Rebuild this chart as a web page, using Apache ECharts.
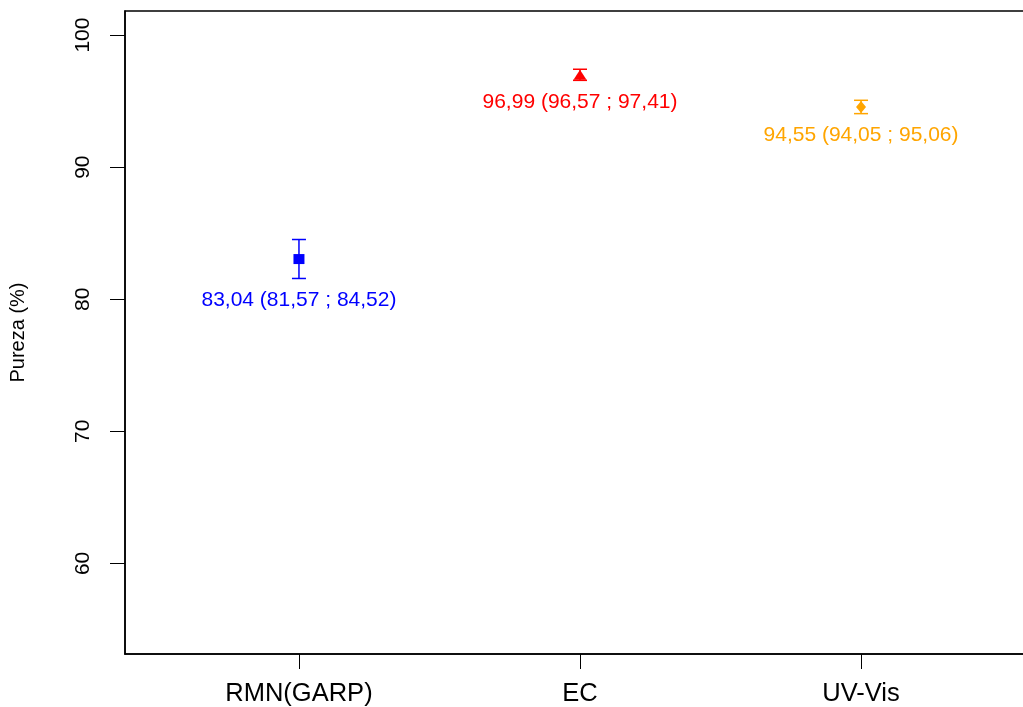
<!DOCTYPE html>
<html>
<head>
<meta charset="utf-8">
<script src="https://cdn.jsdelivr.net/npm/echarts@6/dist/echarts.min.js"></script>
<style>
html,body{margin:0;padding:0;background:#fff;}
#chart{width:1023px;height:707px;}
</style>
</head>
<body>
<div id="chart"></div>
<script>
const categories = ['RMN(GARP)', 'EC', 'UV-Vis'];
const means = [83.04, 96.99, 94.55];
const lowers = [81.57, 96.57, 94.05];
const uppers = [84.52, 97.41, 95.06];
const colors = ['#0000FF', '#FF0000', '#FFA500'];
const symbols = ['rect', 'triangle', 'diamond'];
const symbolSizes = [[11, 10], [13, 10], [10, 12]];
const yTicks = [60, 70, 80, 90, 100];
const xPositions = [1, 2, 3];
const yTitle = 'Pureza (%)';

const FONT = "'Liberation Sans', Arial, sans-serif";
const fmt = v => v.toFixed(2).replace('.', ',');

const chart = echarts.init(document.getElementById('chart'), null, {renderer: 'canvas'});

const errData = xPositions.map((x, i) => [x, lowers[i], uppers[i], i]);
const ptData = xPositions.map((x, i) => ({
  value: [x, means[i]],
  symbol: symbols[i],
  symbolSize: symbolSizes[i],
  itemStyle: {color: colors[i], opacity: 1}
}));

chart.setOption({
  animation: false,
  backgroundColor: '#fff',
  grid: {left: 125, width: 910, top: 11, bottom: 53, containLabel: false, outerBoundsMode: 'none',
    show: true, borderColor: '#000', borderWidth: 1.5},
  xAxis: {
    type: 'value', min: 0.381, max: 3.619,
    axisLine: {show: true, lineStyle: {color: '#000', width: 1.5}},
    axisTick: {show: true, length: 15, customValues: xPositions, lineStyle: {color: '#000', width: 1}},
    axisLabel: {customValues: xPositions, margin: 27, fontSize: 25.5, fontFamily: FONT, color: '#000',
      formatter: v => categories[Math.round(v) - 1]},
    splitLine: {show: false}
  },
  yAxis: {
    type: 'value', min: 53.14, max: 101.82,
    name: yTitle, nameLocation: 'middle', nameGap: 97, nameRotate: 90,
    nameTextStyle: {fontSize: 20, fontFamily: FONT, color: '#000'},
    axisLine: {show: true, lineStyle: {color: '#000', width: 1.5}},
    axisTick: {show: true, length: 15, customValues: yTicks, lineStyle: {color: '#000', width: 1}},
    axisLabel: {customValues: yTicks, rotate: 90, margin: 31, fontSize: 21, fontFamily: FONT, color: '#000'},
    splitLine: {show: false}
  },
  series: [
    {
      type: 'custom',
      data: errData,
      renderItem: function (params, api) {
        const x = api.value(0), lo = api.value(1), hi = api.value(2), i = api.value(3);
        const pLo = api.coord([x, lo]);
        const pHi = api.coord([x, hi]);
        const hw = 7;
        const c = colors[i];
        const st = {stroke: c, lineWidth: 1.5};
        return {
          type: 'group',
          children: [
            {type: 'line', shape: {x1: pLo[0], y1: pLo[1], x2: pHi[0], y2: pHi[1]}, style: st},
            {type: 'line', shape: {x1: pLo[0] - hw, y1: pLo[1], x2: pLo[0] + hw, y2: pLo[1]}, style: st},
            {type: 'line', shape: {x1: pHi[0] - hw, y1: pHi[1], x2: pHi[0] + hw, y2: pHi[1]}, style: st},
            {type: 'text', x: pLo[0], y: pLo[1] + 22, style: {
              text: fmt(means[i]) + ' (' + fmt(lowers[i]) + ' ; ' + fmt(uppers[i]) + ')',
              fill: c, font: '21px ' + FONT, textAlign: 'center', textVerticalAlign: 'middle'
            }}
          ]
        };
      },
      z: 2
    },
    {
      type: 'scatter',
      data: ptData,
      itemStyle: {opacity: 1},
      z: 3
    }
  ]
});
</script>
</body>
</html>
